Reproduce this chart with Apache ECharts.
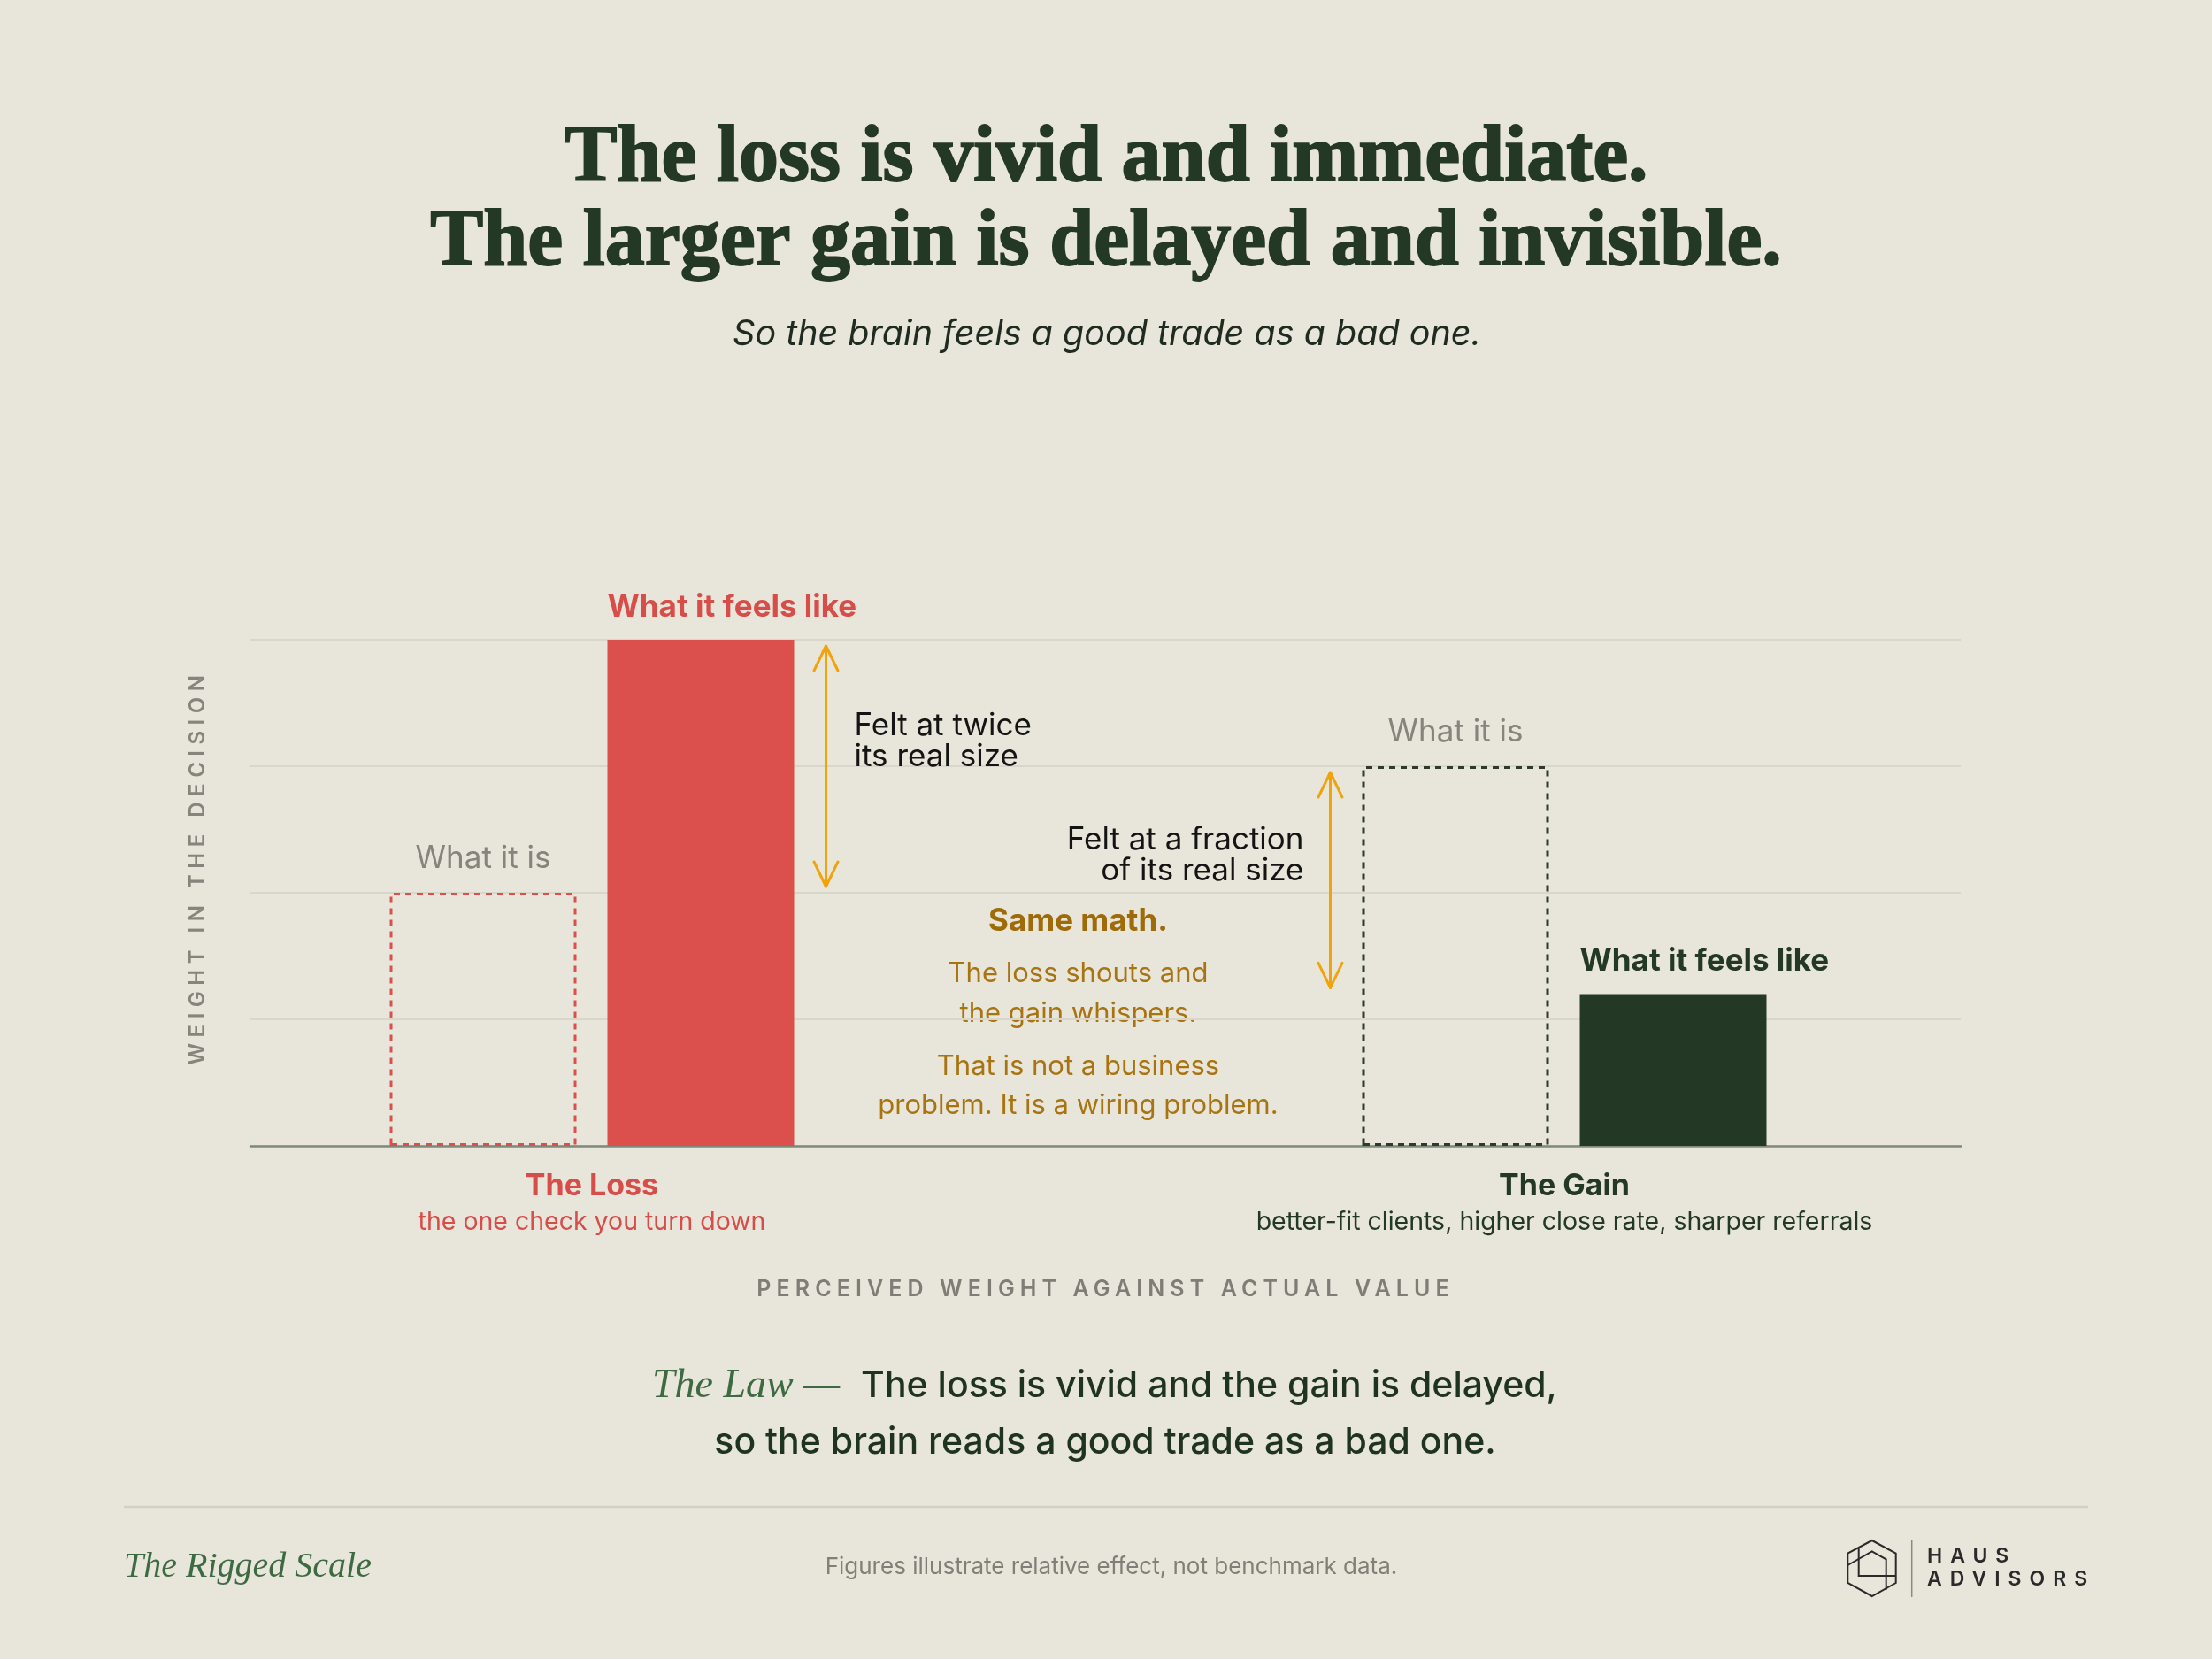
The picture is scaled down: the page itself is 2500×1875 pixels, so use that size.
<!DOCTYPE html>
<html>
<head>
<meta charset="utf-8">
<script src="https://cdn.jsdelivr.net/npm/echarts@6/dist/echarts.min.js"></script>
<style>
html,body{margin:0;padding:0;background:#E8E6DA;}
#c{width:2500px;height:1875px;}
</style>
</head>
<body>
<div id="c"></div>
<script>
// ---------- data ----------
const CATEGORIES = ['The Loss', 'The Gain'];
const CATEGORY_NOTES = ['the one check you turn down', 'better-fit clients, higher close rate, sharper referrals'];
const ACTUAL_VALUES = [2, 3];      // "What it is"
const FELT_VALUES = [4, 1.2];      // "What it feels like"
const ARROW_NOTES = ['Felt at twice\nits real size', 'Felt at a fraction\nof its real size'];
const Y_MIN = 0, Y_MAX = 4, Y_INTERVAL = 1;

// ---------- styles ----------
const BG = '#E8E6DA';
const RED = '#DB504C';
const DARK = '#243826';
const ORANGE = '#F0A30C';
const BROWN = '#A87412';
const GRAY = '#85857D';
const BOX_COLORS = [RED, '#2E3A2F'];
const FELT_COLORS = [RED, DARK];
const LABEL_COLORS = ['#D64D49', DARK];
const BAR_W = 211, BAR_GAP = 35;

// letter-spaced labels (real text, spacing applied at draw time)
const SPACED = {
  'WEIGHT IN THE DECISION': '6.5px',
  'PERCEIVED WEIGHT AGAINST ACTUAL VALUE': '6.1px',
  'HAUS': '9px',
  'ADVISORS': '9px'
};
(function(){
  const of = CanvasRenderingContext2D.prototype.fillText;
  CanvasRenderingContext2D.prototype.fillText = function(t, x, y, m){
    const ls = SPACED[t];
    if (ls) {
      this.save();
      this.letterSpacing = ls;
      if (m === undefined) of.call(this, t, x, y); else of.call(this, t, x, y, m);
      this.restore();
    } else {
      if (m === undefined) of.call(this, t, x, y); else of.call(this, t, x, y, m);
    }
  };
})();

const chart = echarts.init(document.getElementById('c'), null, {renderer: 'canvas'});

const richCat = {};
CATEGORIES.forEach((c, i) => {
  richCat['t' + i] = {color: LABEL_COLORS[i], fontFamily: 'Inter', fontWeight: 700, fontSize: 34, lineHeight: 40};
  richCat['s' + i] = {color: LABEL_COLORS[i], fontFamily: 'Inter', fontWeight: 400, fontSize: 28.5, lineHeight: 40};
});

const option = {
  backgroundColor: BG,
  animation: false,
  grid: [
    {left: 283, right: 284, top: 723, bottom: 580},
    {left: 119.5, right: 182.5, top: 723, bottom: 580}
  ],
  xAxis: [
    {
      gridIndex: 0, type: 'category', data: CATEGORIES,
      axisLine: {show: true, lineStyle: {color: '#7E8A7C', width: 2.5}},
      axisTick: {show: false}, axisLabel: {show: false}, splitLine: {show: false},
      name: 'PERCEIVED WEIGHT AGAINST ACTUAL VALUE', nameLocation: 'middle', nameGap: 150,
      nameTextStyle: {color: '#7E7E76', fontFamily: 'Inter', fontWeight: 600, fontSize: 25, lineHeight: 25}
    },
    {
      gridIndex: 1, type: 'category', data: CATEGORIES,
      axisLine: {show: false}, axisTick: {show: false}, splitLine: {show: false},
      axisLabel: {
        interval: 0, margin: 26,
        formatter: (v, i) => '{t' + i + '|' + v + '}\n{s' + i + '|' + CATEGORY_NOTES[i] + '}',
        rich: richCat
      }
    }
  ],
  yAxis: [
    {
      gridIndex: 0, type: 'value', min: Y_MIN, max: Y_MAX, interval: Y_INTERVAL,
      axisLine: {show: false}, axisTick: {show: false}, axisLabel: {show: false},
      splitLine: {show: true, lineStyle: {color: '#D9D7CB', width: 2}},
      name: 'WEIGHT IN THE DECISION', nameLocation: 'middle', nameRotate: 90, nameGap: 47,
      nameTextStyle: {color: '#85857D', fontFamily: 'Inter', fontWeight: 600, fontSize: 24, lineHeight: 24, padding: [0, 0, 0, 58]}
    },
    {
      gridIndex: 1, type: 'value', min: Y_MIN, max: Y_MAX, interval: Y_INTERVAL,
      axisLine: {show: false}, axisTick: {show: false}, axisLabel: {show: false}, splitLine: {show: false}
    }
  ],
  series: [
    {
      name: 'What it is', type: 'bar', xAxisIndex: 1, yAxisIndex: 1,
      barWidth: BAR_W, barGap: (BAR_GAP / BAR_W * 100) + '%', silent: true, z: 3,
      data: ACTUAL_VALUES.map((v, i) => ({
        value: v,
        itemStyle: {color: 'rgba(0,0,0,0)', borderColor: BOX_COLORS[i], borderWidth: 3, borderType: [7, 6]}
      })),
      label: {show: true, position: 'top', distance: 21, formatter: 'What it is',
        color: GRAY, fontFamily: 'Inter', fontWeight: 400, fontSize: 35, lineHeight: 35}
    },
    {
      name: 'What it feels like', type: 'bar', xAxisIndex: 1, yAxisIndex: 1,
      barWidth: BAR_W, barGap: (BAR_GAP / BAR_W * 100) + '%', silent: true, z: 3,
      data: FELT_VALUES.map((v, i) => ({
        value: v,
        itemStyle: {color: FELT_COLORS[i]},
        label: {color: LABEL_COLORS[i]}
      })),
      label: {show: true, position: [0, -37], align: 'left', verticalAlign: 'middle',
        formatter: 'What it feels like', fontFamily: 'Inter', fontWeight: 700, fontSize: 35, lineHeight: 35}
    },
    {
      type: 'custom', xAxisIndex: 1, yAxisIndex: 1, silent: true, z: 5, clip: false,
      data: CATEGORIES.map((c, i) => [i, ACTUAL_VALUES[i], FELT_VALUES[i]]),
      renderItem: (params, api) => {
        const i = api.value(0), a = api.value(1), f = api.value(2);
        const top = api.coord([i, Math.max(a, f)]);
        const bot = api.coord([i, Math.min(a, f)]);
        const side = f > a ? 1 : -1;
        const x = top[0] + side * (BAR_W + BAR_GAP / 2 + 36);
        const y1 = top[1] + 7, y2 = bot[1] - 7;
        const hw = 13.5, hh = 28;
        const ls = {stroke: ORANGE, lineWidth: 3, fill: null, lineCap: 'round', lineJoin: 'round'};
        return {type: 'group', children: [
          {type: 'line', shape: {x1: x, y1: y1, x2: x, y2: y2}, style: ls},
          {type: 'polyline', shape: {points: [[x - hw, y1 + hh], [x, y1], [x + hw, y1 + hh]]}, style: ls},
          {type: 'polyline', shape: {points: [[x - hw, y2 - hh], [x, y2], [x + hw, y2 - hh]]}, style: ls},
          {type: 'text', x: x + side * (side > 0 ? 32 : 30), y: (y1 + y2) / 2 - 28,
            style: {text: ARROW_NOTES[i], align: side > 0 ? 'left' : 'right', verticalAlign: 'middle',
              fill: '#141414', fontSize: 35, fontFamily: 'Inter', lineHeight: 35}}
        ]};
      }
    }
  ],
  graphic: [
    {type: 'text', x: 1250, y: 181, style: {text: 'The loss is vivid and immediate.', fill: DARK,
      stroke: DARK, lineWidth: 1.8,
      fontFamily: 'Liberation Serif', fontWeight: 700, fontSize: 90, align: 'center', verticalAlign: 'middle'}},
    {type: 'text', x: 1250, y: 276, style: {text: 'The larger gain is delayed and invisible.', fill: DARK,
      stroke: DARK, lineWidth: 1.8,
      fontFamily: 'Liberation Serif', fontWeight: 700, fontSize: 90, align: 'center', verticalAlign: 'middle'}},
    {type: 'text', x: 1251, y: 378, style: {text: 'So the brain feels a good trade as a bad one.', fill: '#1F2A20',
      fontFamily: 'Inter', fontStyle: 'italic', fontWeight: 400, fontSize: 39.5, align: 'center', verticalAlign: 'middle'}},

    {type: 'text', x: 1218.5, y: 1041, style: {text: 'Same math.', fill: '#9E6B08',
      fontFamily: 'Inter', fontWeight: 700, fontSize: 35, align: 'center', verticalAlign: 'middle'}},
    {type: 'text', x: 1218.5, y: 1123, style: {text: 'The loss shouts and\nthe gain whispers.', fill: BROWN,
      fontFamily: 'Inter', fontSize: 31, lineHeight: 45, align: 'center', verticalAlign: 'middle'}},
    {type: 'text', x: 1218.5, y: 1228, style: {text: 'That is not a business\nproblem. It is a wiring problem.', fill: BROWN,
      fontFamily: 'Inter', fontSize: 31, lineHeight: 44, align: 'center', verticalAlign: 'middle'}},

    {type: 'text', x: 1248.5, y: 1567, style: {
      text: '{law|The Law \u2014}{gap| }{main|The loss is vivid and the gain is delayed,}',
      align: 'center', verticalAlign: 'middle',
      rich: {
        law: {fontFamily: 'Liberation Serif', fontStyle: 'italic', fontSize: 46, fill: '#3E6A43'},
        gap: {width: 24, fontSize: 20},
        main: {fontFamily: 'Inter', fontWeight: 500, fontSize: 41, fill: '#1F3321'}
      }}},
    {type: 'text', x: 1249, y: 1631, style: {text: 'so the brain reads a good trade as a bad one.', fill: '#1F3321',
      fontFamily: 'Inter', fontWeight: 500, fontSize: 41, align: 'center', verticalAlign: 'middle'}},

    {type: 'line', shape: {x1: 140, y1: 1703, x2: 2360, y2: 1703}, style: {stroke: '#D3D0C3', lineWidth: 2.5}},
    {type: 'text', x: 140, y: 1771.5, style: {text: 'The Rigged Scale', fill: '#3E6A43',
      fontFamily: 'Liberation Serif', fontStyle: 'italic', fontSize: 40, align: 'left', verticalAlign: 'middle'}},
    {type: 'text', x: 1256, y: 1771, style: {text: 'Figures illustrate relative effect, not benchmark data.', fill: '#808078',
      fontFamily: 'Inter', fontSize: 26, align: 'center', verticalAlign: 'middle'}},

    // logo
    {type: 'polygon', shape: {points: [[2115.7,1741],[2142.7,1755.7],[2142.7,1789],[2115.7,1804],[2088.3,1789],[2088.3,1755.7]]},
      style: {fill: null, stroke: '#2A2A2A', lineWidth: 2}},
    {type: 'polyline', shape: {points: [[2100.7,1749],[2100.7,1781],[2142.7,1781]]}, style: {fill: null, stroke: '#2A2A2A', lineWidth: 2}},
    {type: 'polyline', shape: {points: [[2088.3,1769],[2115.7,1753.3],[2131.7,1762.3],[2131.7,1796.7]]}, style: {fill: null, stroke: '#2A2A2A', lineWidth: 2}},
    {type: 'line', shape: {x1: 2160.7, y1: 1740, x2: 2160.7, y2: 1805}, style: {stroke: '#8A8A85', lineWidth: 1.5}},
    {type: 'text', x: 2178, y: 1759, style: {text: 'HAUS', fill: '#2A2A2A', fontFamily: 'Inter', fontWeight: 600, fontSize: 23, align: 'left', verticalAlign: 'middle'}},
    {type: 'text', x: 2178, y: 1785, style: {text: 'ADVISORS', fill: '#2A2A2A', fontFamily: 'Inter', fontWeight: 600, fontSize: 23, align: 'left', verticalAlign: 'middle'}}
  ]
};
chart.setOption(option);
</script>
</body>
</html>
